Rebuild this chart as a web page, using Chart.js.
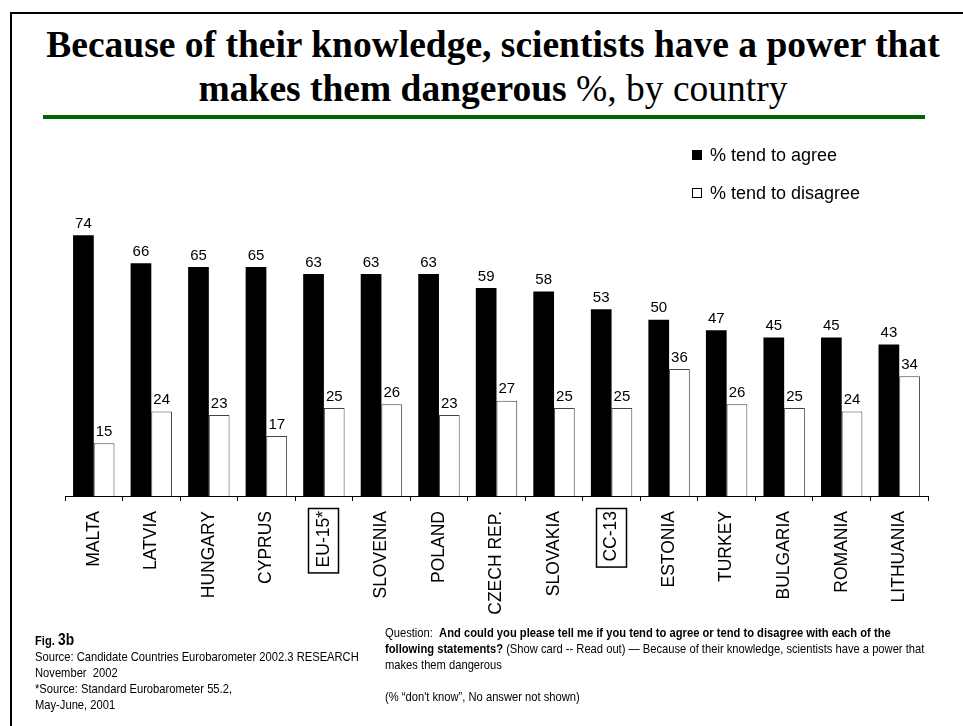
<!DOCTYPE html>
<html>
<head>
<meta charset="utf-8">
<script src="https://cdn.jsdelivr.net/npm/chart.js@4"></script>
<style>
  body { margin: 0; background: #fff; }
  #page { position: relative; width: 963px; height: 726px; overflow: hidden; font-family: "Liberation Sans", Arial, sans-serif; }
  #frame { position: absolute; left: 10px; top: 12px; width: 1000px; height: 800px; border-left: 2px solid #000; border-top: 2px solid #000; }
  #title { position: absolute; left: 20px; width: 946px; top: 23px; text-align: center; font-family: "Liberation Serif", "Times New Roman", serif; font-size: 37.5px; line-height: 44px; font-weight: bold; color: #000; }
  #title .n { font-weight: normal; }
  #rule { position: absolute; left: 43px; top: 115px; width: 882px; height: 4px; background: #006400; }
  #chart { position: absolute; left: 0; top: 0; }
  .leg { position: absolute; left: 692px; font-size: 18px; line-height: 20px; color: #000; }
  .leg span.sw { position: absolute; left: 0; top: 5px; width: 10px; height: 10px; box-sizing: border-box; border: 1px solid #000; }
  .leg span.tx { position: absolute; left: 18px; top: 0; white-space: nowrap; }
  .foot { position: absolute; font-family: "Liberation Sans Narrow", "Arial Narrow", "Liberation Sans", sans-serif; font-size: 13px; line-height: 16px; color: #000; white-space: nowrap; transform: scaleX(0.86); transform-origin: 0 0; }
</style>
</head>
<body>
<div id="page">
  <div id="frame"></div>
  <div id="title">Because of their knowledge, scientists have a power that<br>makes them dangerous <span class="n">%, by country</span></div>
  <div id="rule"></div>
  <canvas id="chart" width="963" height="726"></canvas>
  <div class="leg" style="top:145px"><span class="sw" style="background:#000"></span><span class="tx">% tend to agree</span></div>
  <div class="leg" style="top:183px"><span class="sw" style="background:#fff"></span><span class="tx">% tend to disagree</span></div>
  <div class="foot" style="left:35px; top:632px"><b>Fig. <span style="font-size:16px">3b</span></b><br>Source: Candidate Countries Eurobarometer 2002.3 RESEARCH<br>November&nbsp; 2002<br>*Source: Standard Eurobarometer 55.2,<br>May-June, 2001</div>
  <div class="foot" style="left:385px; top:625px">Question:&nbsp; <b>And could you please tell me if you tend to agree or tend to disagree with each of the</b><br><b>following statements?</b> (Show card -- Read out) — Because of their knowledge, scientists have a power that<br>makes them dangerous<br><br>(% “don't know”, No answer not shown)</div>
</div>
<script>
const countries = ['MALTA', 'LATVIA', 'HUNGARY', 'CYPRUS', 'EU-15*', 'SLOVENIA', 'POLAND', 'CZECH REP.', 'SLOVAKIA', 'CC-13', 'ESTONIA', 'TURKEY', 'BULGARIA', 'ROMANIA', 'LITHUANIA'];
const agree = [74, 66, 65, 65, 63, 63, 63, 59, 58, 53, 50, 47, 45, 45, 43];
const disagree = [15, 24, 23, 17, 25, 26, 23, 27, 25, 25, 36, 26, 25, 24, 34];
const boxedLabels = ['EU-15*', 'CC-13'];

// value labels above each bar
const valueLabels = {
  id: 'valueLabels',
  afterDatasetsDraw(chart) {
    const ctx = chart.ctx;
    ctx.save();
    ctx.font = '15px "Liberation Sans", Arial, sans-serif';
    ctx.fillStyle = '#000';
    ctx.textAlign = 'center';
    ctx.textBaseline = 'bottom';
    chart.data.datasets.forEach((ds, i) => {
      chart.getDatasetMeta(i).data.forEach((bar, j) => {
        ctx.fillText(ds.data[j], bar.x, bar.y - 4);
      });
    });
    ctx.restore();
  }
};

// boxes round the EU-15* and CC-13 labels
const labelBoxes = {
  id: 'labelBoxes',
  afterDraw(chart) {
    const xs = chart.scales.x;
    const ctx = chart.ctx;
    ctx.save();
    ctx.strokeStyle = '#000';
    ctx.lineWidth = 1.5;
    ctx.font = '17.5px "Liberation Sans", Arial, sans-serif';
    countries.forEach((c, i) => {
      if (!boxedLabels.includes(c)) return;
      const x = xs.getPixelForTick(i);
      const w = ctx.measureText(c).width;
      ctx.strokeRect(Math.round(x - 16) + 0.5, xs.top + 12.5, 30, w + 8);
    });
    ctx.restore();
  }
};

new Chart(document.getElementById('chart'), {
  type: 'bar',
  data: {
    labels: countries,
    datasets: [
      { label: '% tend to agree', data: agree, backgroundColor: '#000', borderColor: '#000', borderWidth: 0 },
      { label: '% tend to disagree', data: disagree, backgroundColor: '#fff', borderColor: '#444', borderWidth: 1 }
    ]
  },
  options: {
    responsive: false,
    animation: false,
    layout: { padding: { left: 65, right: 35, top: 214, bottom: 0 } },
    plugins: { legend: { display: false }, tooltip: { enabled: false } },
    datasets: { bar: { categoryPercentage: 0.72, barPercentage: 1 } },
    scales: {
      x: {
        afterFit: (s) => { s.height = 230; },
        grid: { display: true, drawOnChartArea: false, drawTicks: true, tickLength: 5, color: '#000', offset: true },
        border: { display: true, color: '#000', width: 1 },
        ticks: {
          autoSkip: false, minRotation: 90, maxRotation: 90, padding: 10, color: '#000',
          font: { family: '"Liberation Sans", Arial, sans-serif', size: 17.5 }
        }
      },
      y: { display: false, min: 0, max: 80 }
    }
  },
  plugins: [valueLabels, labelBoxes]
});
</script>
</body>
</html>
